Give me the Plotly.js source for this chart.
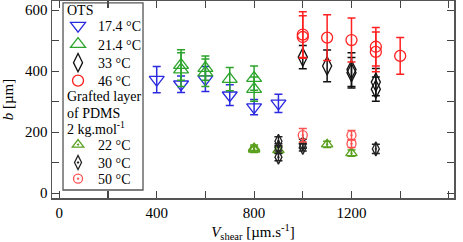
<!DOCTYPE html>
<html><head><meta charset="utf-8">
<script src="https://cdn.plot.ly/plotly-3.0.1.min.js"></script>
<style>html,body{margin:0;padding:0;background:#fff}</style>
</head><body><div id="chart" style="width:463px;height:242px"></div>
<script>
// OTS series
const ots174X = [400, 500, 600, 700, 800, 900];
const ots174Y = [372, 357, 374, 321, 282, 294];
const ots174E = [43, 27, 41, 34, 25, 30];

const ots214X = [500, 500, 600, 600, 700, 800, 800];
const ots214Y = [420, 405, 410, 395, 374, 377, 341];
const ots214E = [50, 55, 40, 45, 38, 40, 40];

const ots33X = [1000, 1100, 1200, 1200, 1300, 1300];
const ots33Y = [446, 417, 405, 395, 364, 341];
const ots33E = [38, 52, 55, 50, 45, 40];

const ots46X = [1000, 1000, 1100, 1200, 1300, 1300, 1400];
const ots46Y = [520, 512, 510, 502, 480, 463, 450];
const ots46E = [75, 70, 75, 72, 63, 65, 60];

// Grafted PDMS series
const pdms22X = [800, 800, 900, 1100, 1200];
const pdms22Y = [148, 143, 141, 160, 131];
const pdms22E = [10, 10, 10, 10, 10];

const pdms30X = [900, 900, 900, 1000, 1000, 1300];
const pdms30Y = [170, 150, 118, 162, 150, 145];
const pdms30E = [15, 12, 12, 15, 12, 15];

const pdms50X = [1000, 1200, 1200];
const pdms50Y = [190, 190, 162];
const pdms50E = [22, 15, 12];

const labels = ['17.4 °C', '21.4 °C', '33 °C', '46 °C', '22 °C', '30 °C', '50 °C'];
const titleOTS = ['OTS'];
const titlePDMS = ['Grafted layer', 'of PDMS', '2 kg.mol<sup>-1</sup>'];

const FONT = 'Liberation Serif';
const legendIds = ['legend', 'legend2', 'legend3', 'legend4', 'legend5', 'legend6', 'legend7'];
function tr(x, y, e, i, color, symbol, size) {
  return {
    x: x, y: y, type: 'scatter', mode: 'markers', name: labels[i], legend: legendIds[i],
    marker: {symbol: symbol, size: size, color: color, line: {color: color, width: 1.3}},
    error_y: {type: 'data', array: e, visible: true, color: color, thickness: 1.5, width: 4}
  };
}
const data = [
  tr(ots174X, ots174Y, ots174E, 0, '#2a2ae0', 'triangle-down-open', 13),
  tr(ots214X, ots214Y, ots214E, 1, '#2ca42c', 'triangle-up-open', 13),
  tr(ots33X, ots33Y, ots33E, 2, '#111111', 'diamond-tall-open', 13),
  tr(ots46X, ots46Y, ots46E, 3, '#ff2020', 'circle-open', 11),
  tr(pdms22X, pdms22Y, pdms22E, 4, '#5aa01e', 'triangle-up-open-dot', 10),
  tr(pdms30X, pdms30Y, pdms30E, 5, '#222222', 'diamond-tall-open-dot', 10),
  tr(pdms50X, pdms50Y, pdms50E, 6, '#ff5050', 'circle-open-dot', 9)
];

const axisCommon = {
  showgrid: false, zeroline: false, showline: true, linecolor: '#555', linewidth: 1.5,
  mirror: 'ticks', ticks: 'inside', ticklen: 7, tickwidth: 1.2, tickcolor: '#444',
  tickfont: {family: FONT, size: 15, color: '#000'}
};
const layout = {
  width: 463, height: 242,
  margin: {l: 52, r: 9, t: 1, b: 44},
  paper_bgcolor: '#fff', plot_bgcolor: '#fff',
  font: {family: FONT, size: 14, color: '#000'},
  xaxis: Object.assign({}, axisCommon, {
    range: [-30, 1621], tickvals: [0, 400, 800, 1200, 1600],
    minor: {dtick: 200, tick0: 0, ticks: 'inside', ticklen: 7, tickwidth: 1.2, tickcolor: '#444'},
    title: {text: '<i>V</i><sub>shear</sub> [µm.s<sup>-1</sup>]', font: {family: FONT, size: 15}, standoff: 8}
  }),
  yaxis: Object.assign({}, axisCommon, {
    range: [-16, 630], tickvals: [0, 200, 400, 600],
    minor: {dtick: 100, tick0: 0, ticks: 'inside', ticklen: 7, tickwidth: 1.2, tickcolor: '#444'},
    title: {text: '<i>b</i> [µm]', font: {family: FONT, size: 15}, standoff: 9}
  }),
  showlegend: true,
  shapes: [{
    type: 'rect', xref: 'paper', yref: 'paper', layer: 'above',
    x0: 0.0274, x1: 0.2264, y0: 0.0406, y1: 0.99,
    line: {color: '#555', width: 1.3}, fillcolor: 'rgba(255,255,255,0)'
  }],
  annotations: []
};
// legend item centre rows (paper y)
const legendY = [0.873, 0.779, 0.685, 0.594, 0.269, 0.178, 0.096];
legendIds.forEach(function (id, i) {
  layout[id] = {
    x: 0.015, y: legendY[i], xanchor: 'left', yanchor: 'middle',
    bgcolor: 'rgba(0,0,0,0)', borderwidth: 0, itemwidth: 30,
    font: {family: FONT, size: 14, color: '#000'}
  };
});
// group headings inside the legend box
const headRows = [0.954];
const pdmsRows = [0.513, 0.431, 0.355];
titleOTS.concat(titlePDMS).forEach(function (t, i) {
  layout.annotations.push({
    text: t, xref: 'paper', yref: 'paper', x: 0.033, y: (headRows.concat(pdmsRows))[i],
    xanchor: 'left', yanchor: 'middle', showarrow: false,
    font: {family: FONT, size: 14, color: '#000'}
  });
});
Plotly.newPlot('chart', data, layout, {displayModeBar: false, staticPlot: true});
</script></body></html>
